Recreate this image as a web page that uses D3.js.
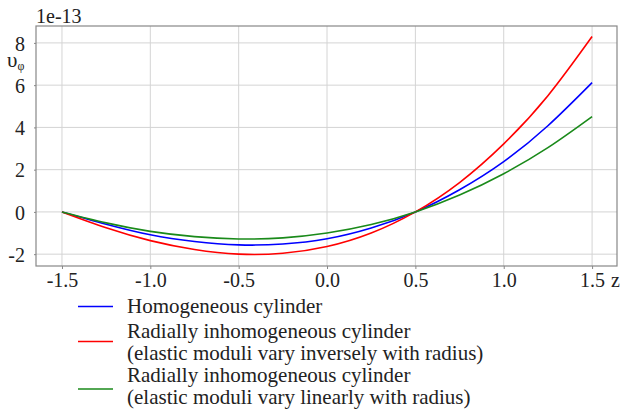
<!DOCTYPE html>
<html>
<head>
<meta charset="utf-8">
<script src="https://cdn.jsdelivr.net/npm/d3@7"></script>
<style>
  body { margin: 0; background: #fff; }
  svg text { font-family: "Liberation Serif", "Times New Roman", Times, serif !important; fill: #222; }
</style>
</head>
<body>
<div id="chart"></div>
<script>
// values (units of 1e-13)
const zValues = [-1.5, -1.25, -1.0, -0.75, -0.5, -0.25, 0.0, 0.25, 0.5, 0.75, 1.0, 1.25, 1.5];
const homogeneous = [0, -0.58, -1.08, -1.40, -1.56, -1.52, -1.27, -0.76, 0, 1.05, 2.38, 4.08, 6.12];
const inverse = [0, -0.75, -1.36, -1.78, -2.0, -1.96, -1.64, -1.0, 0, 1.39, 3.22, 5.50, 8.30];
const linear = [0, -0.52, -0.92, -1.17, -1.28, -1.23, -1.0, -0.60, 0, 0.80, 1.81, 3.04, 4.51];
const xTicks = [-1.5, -1.0, -0.5, 0.0, 0.5, 1.0, 1.5];
const yTicks = [-2, 0, 2, 4, 6, 8];
const seriesNames = [
    ["Homogeneous cylinder"],
    ["Radially inhomogeneous cylinder", "(elastic moduli vary inversely with radius)"],
    ["Radially inhomogeneous cylinder", "(elastic moduli vary linearly with radius)"]
];
const seriesColors = ["#0000ff", "#ff0000", "#1a8a1a"];

const width = 624, height = 413;
const margin = {top: 26, left: 36, right: 7, bottom: 147};
const innerW = width - margin.left - margin.right;
const innerH = height - margin.top - margin.bottom;
const serif = "'Liberation Serif', 'Times New Roman', serif";

const svg = d3.select("#chart").append("svg")
    .attr("width", width)
    .attr("height", height)
    .attr("font-family", serif);

const g = svg.append("g")
    .attr("transform", `translate(${margin.left},${margin.top})`);

const x = d3.scaleLinear().domain([-1.647, 1.641]).range([0, innerW]);
const y = d3.scaleLinear().domain([-2.56, 8.8]).range([innerH, 0]);

// grid
g.selectAll(".vgrid").data(xTicks).enter().append("line")
    .attr("x1", d => x(d)).attr("x2", d => x(d))
    .attr("y1", 0).attr("y2", innerH)
    .attr("stroke", "#d4d4d4").attr("stroke-width", 1);
g.selectAll(".hgrid").data(yTicks).enter().append("line")
    .attr("x1", 0).attr("x2", innerW)
    .attr("y1", d => y(d)).attr("y2", d => y(d))
    .attr("stroke", "#d4d4d4").attr("stroke-width", 1);

// axes (hyphen instead of unicode minus)
const fmtX = d => d3.format(".1f")(d).replace("\u2212", "-");
const fmtY = d => d3.format("d")(d).replace("\u2212", "-");
const xAxis = d3.axisBottom(x).tickValues(xTicks).tickFormat(fmtX).tickSize(3).tickPadding(4);
const yAxis = d3.axisLeft(y).tickValues(yTicks).tickFormat(fmtY).tickSize(2).tickPadding(9);

const gx = g.append("g").attr("transform", `translate(0,${innerH})`).call(xAxis);
const gy = g.append("g").call(yAxis);
[gx, gy].forEach(a => {
    a.attr("font-family", serif);
    a.select(".domain").remove();
    a.selectAll("line").attr("stroke", "#888");
    a.selectAll("text").style("font-size", "20px").attr("fill", "#222");
});
gy.selectAll("text").attr("dy", "0.36em");

g.append("rect")
    .attr("width", innerW).attr("height", innerH)
    .attr("fill", "none").attr("stroke", "#888").attr("stroke-width", 1.2);

// curves
const allSeries = [homogeneous, inverse, linear];
const line = d3.line()
    .x((d, i) => x(zValues[i]))
    .y(d => y(d))
    .curve(d3.curveNatural);

g.selectAll(".curve").data(allSeries).enter().append("path")
    .attr("d", d => line(d))
    .attr("fill", "none")
    .attr("stroke", (d, i) => seriesColors[i])
    .attr("stroke-width", 1.6);

// labels
svg.append("text").attr("x", 36).attr("y", 23).style("font-size", "20px").text("1e-13");
const yl = svg.append("text").attr("x", 7).attr("y", 67).style("font-size", "21px");
yl.append("tspan").text("υ");
yl.append("tspan").attr("dy", 3).style("font-size", "12px").text("φ");
svg.append("text").attr("x", 611).attr("y", 287).style("font-size", "20px").text("z");

// legend
const legendLines = [306.5, 341.5, 389];
const legendText = [[313], [338, 360], [382, 404]];
seriesNames.forEach((names, i) => {
    svg.append("line")
        .attr("x1", 78).attr("x2", 113)
        .attr("y1", legendLines[i]).attr("y2", legendLines[i])
        .attr("stroke", seriesColors[i]).attr("stroke-width", 1.6);
    names.forEach((t, j) => {
        svg.append("text")
            .attr("x", 127).attr("y", legendText[i][j])
            .style("font-size", "21px")
            .text(t);
    });
});
</script>
</body>
</html>
